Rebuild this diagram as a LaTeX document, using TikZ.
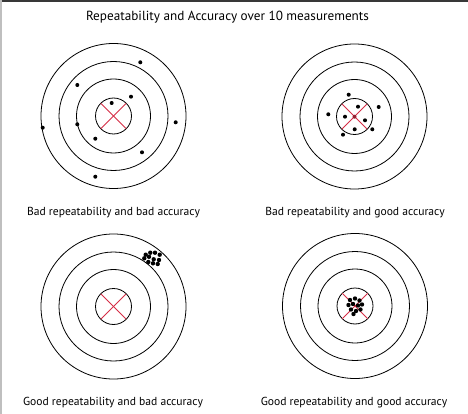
\documentclass[tikz,border=0pt]{standalone}
\usepackage{fontspec}
\setmainfont{PT Sans}
\definecolor{crossred}{RGB}{214,45,70}
\tikzset{
  ring/.style={draw=black, line width=0.8pt},
  crossline/.style={draw=crossred, line width=0.8pt},
  hit/.style={fill=black},
  caption/.style={anchor=base, font=\fontsize{11.6}{14}\selectfont, inner sep=0pt},
  pics/target/.style={code={
    \draw[ring] (0,0) circle (72.5);
    \draw[ring] (0,0) circle (54.5);
    \draw[ring] (0,0) circle (37);
    \draw[ring] (0,0) circle (18);
    \draw[crossline] (-12.7,-12.7) -- (12.7,12.7);
    \draw[crossline] (-12.7,12.7) -- (12.7,-12.7);
  }}
}
\begin{document}
\begin{tikzpicture}[x=1pt,y=-1pt]
\useasboundingbox (0,0) rectangle (468,414);
\fill[white] (0,0) rectangle (468,414);
\fill[black!78] (0,0) rectangle (468,2);
\fill[black!25] (0,0) rectangle (2.2,414);

\node[anchor=base, font=\fontsize{13.2}{16}\selectfont, inner sep=0pt] (title) at (227.5,21) {Repeatability and Accuracy over 10 measurements};

% top-left
\pic at (113.5,116) {target};
\foreach \p in {(140.3,62.3),(77.3,85),(131,96.7),(111.7,103),(42.7,127.7),(77.3,124.3),(175.7,122.3),(95.3,138.7),(142,152.3),(95.3,176.7)}
  \fill[hit] \p circle (2);
\node[caption] (c1) at (113.5,215) {Bad repeatability and bad accuracy};

% top-right
\pic at (354.5,116.5) {target};
\foreach \p in {(348.7,94.7),(358,106.7),(378.7,107),(328.3,114.3),(345,116.7),(365,120.3),(354.7,129.3),(372.3,129.3),(343,134.7)}
  \fill[hit] \p circle (2);
\fill[crossred!70!black] (354.5,116.7) circle (2);
\node[caption] (c2) at (355,215) {Bad repeatability and good accuracy};

% bottom-left
\pic at (113.5,306.5) {target};
\foreach \p in {(145.7,254.7),(150.3,252.7),(155,252.7),(159.7,254.7),(144.3,258.3),(149,256.8),(153.7,259.3),(159,260),(148.3,262),(153,263.3),(157.7,264)}
  \fill[hit] \p circle (2.2);
\node[caption] (c3) at (113,405) {Good repeatability and bad accuracy};

% bottom-right
\pic at (355,306) {target};
\foreach \p in {(350,300),(355,298.5),(359.5,300.5),(348.5,305),(353,304),(358,305.5),(362,304.5),(351,309.5),(356,311),(360.5,309.5),(353.5,314)}
  \fill[hit] \p circle (2.2);
\node[caption] (c4) at (354,405) {Good repeatability and good accuracy};
\end{tikzpicture}
\end{document}
